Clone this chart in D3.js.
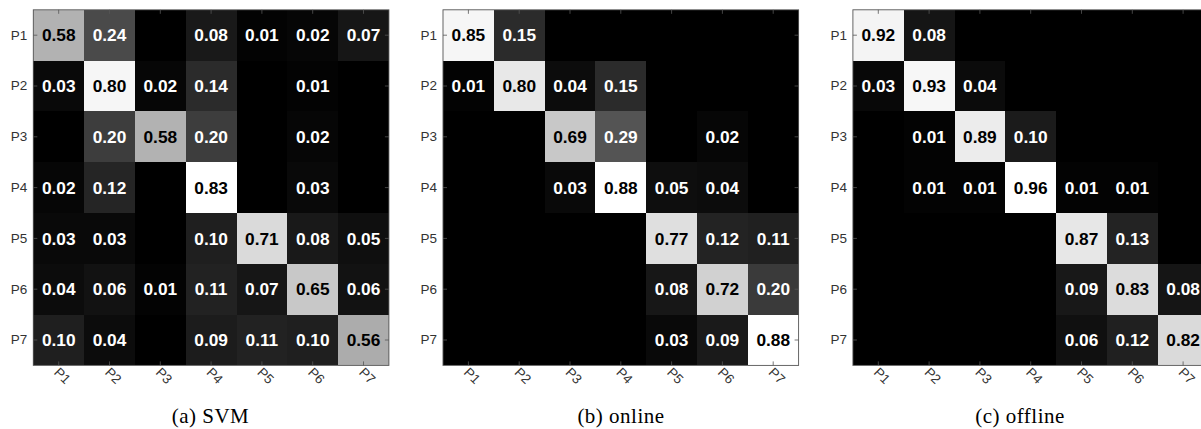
<!DOCTYPE html>
<html>
<head>
<meta charset="utf-8">
<script src="https://cdn.jsdelivr.net/npm/d3@7"></script>
<style>
  html, body { margin: 0; padding: 0; background: #fff; overflow: hidden; }
  svg { display: block; }
</style>
</head>
<body>
<svg id="chart" width="1201" height="429"></svg>
<script>
// ---------- data ----------
const classes = ["P1", "P2", "P3", "P4", "P5", "P6", "P7"];

const svmMatrix = [
  [0.58, 0.24, 0,    0.08, 0.01, 0.02, 0.07],
  [0.03, 0.80, 0.02, 0.14, 0,    0.01, 0   ],
  [0,    0.20, 0.58, 0.20, 0,    0.02, 0   ],
  [0.02, 0.12, 0,    0.83, 0,    0.03, 0   ],
  [0.03, 0.03, 0,    0.10, 0.71, 0.08, 0.05],
  [0.04, 0.06, 0.01, 0.11, 0.07, 0.65, 0.06],
  [0.10, 0.04, 0,    0.09, 0.11, 0.10, 0.56]
];

const onlineMatrix = [
  [0.85, 0.15, 0,    0,    0,    0,    0   ],
  [0.01, 0.80, 0.04, 0.15, 0,    0,    0   ],
  [0,    0,    0.69, 0.29, 0,    0.02, 0   ],
  [0,    0,    0.03, 0.88, 0.05, 0.04, 0   ],
  [0,    0,    0,    0,    0.77, 0.12, 0.11],
  [0,    0,    0,    0,    0.08, 0.72, 0.20],
  [0,    0,    0,    0,    0.03, 0.09, 0.88]
];

const offlineMatrix = [
  [0.92, 0.08, 0,    0,    0,    0,    0   ],
  [0.03, 0.93, 0.04, 0,    0,    0,    0   ],
  [0,    0.01, 0.89, 0.10, 0,    0,    0   ],
  [0,    0.01, 0.01, 0.96, 0.01, 0.01, 0   ],
  [0,    0,    0,    0,    0.87, 0.13, 0   ],
  [0,    0,    0,    0,    0.09, 0.83, 0.08],
  [0,    0,    0,    0,    0.06, 0.12, 0.82]
];

const captions = ["(a) SVM", "(b) online", "(c) offline"];

// ---------- layout ----------
const panels = [
  { matrix: svmMatrix,     left: 33.3,  caption: captions[0], capX: 210.5 },
  { matrix: onlineMatrix,  left: 443.0, caption: captions[1], capX: 621 },
  { matrix: offlineMatrix, left: 852.9, caption: captions[2], capX: 1020 }
];
const plotTop = 9.8, plotSize = 355.6;

const svg = d3.select("#chart");
svg.append("rect").attr("width", 1201).attr("height", 429).attr("fill", "#fff");

panels.forEach(p => {
  const g = svg.append("g").attr("transform", `translate(${p.left},${plotTop})`);
  const x = d3.scaleBand().domain(classes).range([0, plotSize]);
  const y = d3.scaleBand().domain(classes).range([0, plotSize]);
  const maxV = d3.max(p.matrix.flat());
  const color = d3.scaleLinear().domain([0, maxV]).range(["#000000", "#ffffff"]);

  const cells = [];
  p.matrix.forEach((row, i) => row.forEach((v, j) => cells.push({ r: classes[i], c: classes[j], v })));

  g.selectAll("rect.cell").data(cells).enter().append("rect")
    .attr("class", "cell")
    .attr("x", d => x(d.c)).attr("y", d => y(d.r))
    .attr("width", x.bandwidth()).attr("height", y.bandwidth())
    .attr("fill", d => color(d.v))
    .attr("shape-rendering", "crispEdges");

  g.selectAll("text.val").data(cells.filter(d => d.v > 0)).enter().append("text")
    .attr("class", "val")
    .attr("x", d => x(d.c) + x.bandwidth() / 2)
    .attr("y", d => y(d.r) + y.bandwidth() / 2)
    .attr("dy", "0.36em")
    .attr("text-anchor", "middle")
    .attr("font-family", "'Liberation Sans', Arial, Helvetica, sans-serif")
    .attr("font-weight", "bold")
    .attr("font-size", "17.3px")
    .attr("fill", d => (d.v / maxV > 0.5 ? "#000" : "#fff"))
    .text(d => d.v.toFixed(2));

  const tickColor = "#333";
  const ax = g.append("g").call(d3.axisLeft(y).tickSizeInner(-4).tickSizeOuter(0).tickPadding(6));
  const axR = g.append("g").attr("transform", `translate(${plotSize},0)`)
    .call(d3.axisRight(y).tickSizeInner(-4).tickSizeOuter(0).tickFormat(""));
  const axT = g.append("g").call(d3.axisTop(x).tickSizeInner(-4).tickSizeOuter(0).tickFormat(""));
  const axB = g.append("g").attr("transform", `translate(0,${plotSize})`)
    .call(d3.axisBottom(x).tickSizeInner(-4).tickSizeOuter(0).tickFormat(""));

  [ax, axR, axT, axB].forEach(a => {
    a.select(".domain").remove();
    a.selectAll(".tick line").attr("stroke", "#555").attr("stroke-width", 0.8);
  });
  ax.selectAll(".tick text")
    .attr("font-family", "'Liberation Sans', Arial, Helvetica, sans-serif")
    .attr("font-size", "13.5px").attr("fill", tickColor);

  axB.selectAll(".tick").append("text")
    .attr("transform", "translate(-2,4.5) rotate(45)")
    .attr("text-anchor", "start")
    .attr("dy", "0.35em")
    .attr("font-family", "'Liberation Sans', Arial, Helvetica, sans-serif")
    .attr("font-size", "13.5px").attr("fill", tickColor)
    .text(d => d);

  g.append("rect").attr("x", 0).attr("y", 0).attr("width", plotSize).attr("height", plotSize)
    .attr("fill", "none").attr("stroke", "#555").attr("stroke-width", 0.9);

  svg.append("text")
    .attr("x", p.capX).attr("y", 423)
    .attr("text-anchor", "middle")
    .attr("font-family", "'Liberation Serif', 'Times New Roman', serif")
    .attr("font-size", "21px").attr("letter-spacing", "0.5px").attr("fill", "#000")
    .text(p.caption);
});
</script>
</body>
</html>
